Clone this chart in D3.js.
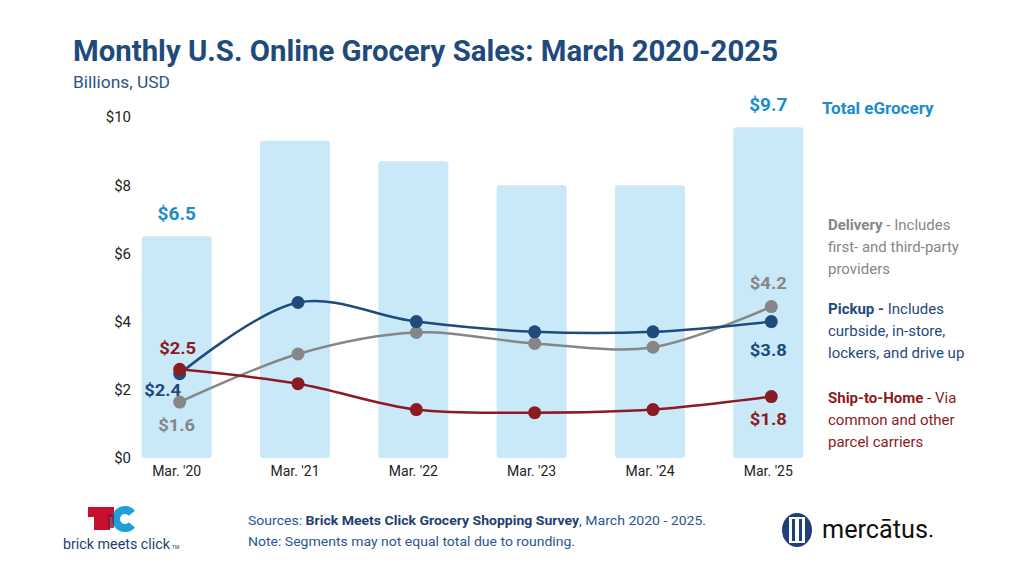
<!DOCTYPE html>
<html>
<head>
<meta charset="utf-8">
<script src="https://cdn.jsdelivr.net/npm/d3@7"></script>
<style>
  body { margin: 0; background: #fff; }
  text { font-family: Roboto, "Noto Sans", sans-serif; }
</style>
</head>
<body>
<div id="chart"></div>
<script>
const years = ["Mar. '20", "Mar. '21", "Mar. '22", "Mar. '23", "Mar. '24", "Mar. '25"];
const total = [6.5, 9.3, 8.7, 8.0, 8.0, 9.7];
const pickup = [2.47, 4.56, 4.0, 3.7, 3.7, 4.0];
const delivery = [1.64, 3.05, 3.68, 3.36, 3.25, 4.44];
const shipHome = [2.6, 2.18, 1.42, 1.33, 1.42, 1.8];
const yTicks = [0, 2, 4, 6, 8, 10];

// only first and last points carry value labels
const totalLabels = ["$6.5", null, null, null, null, "$9.7"];
const pickupLabels = ["$2.4", "$3.8"];
const deliveryLabels = ["$1.6", "$4.2"];
const shipLabels = ["$2.5", "$1.8"];

const width = 1024, height = 576;
const svg = d3.select("#chart").append("svg")
  .attr("width", width)
  .attr("height", height);

const navy = "#1f4a7c", grey = "#868686", red = "#8b1a22", blue = "#1b8dcc", barFill = "#c9e8f8";

const x = d3.scaleBand()
  .domain(years)
  .range([118, 827])
  .paddingInner(0.408)
  .paddingOuter(0.2);

const y = d3.scaleLinear().domain([0, 10]).range([458, 117]);

// title
svg.append("text")
  .attr("x", 73).attr("y", 61)
  .attr("font-size", 30).attr("font-weight", 700)
  .attr("fill", "#1f4a7c")
  .attr("textLength", 705).attr("lengthAdjust", "spacingAndGlyphs")
  .text("Monthly U.S. Online Grocery Sales: March 2020-2025");

svg.append("text")
  .attr("x", 73).attr("y", 88)
  .attr("font-size", 16)
  .attr("fill", "#2c5585")
  .attr("textLength", 97).attr("lengthAdjust", "spacingAndGlyphs")
  .text("Billions, USD");

// y axis labels (no line, no grid)
const yAxis = d3.axisLeft(y).tickValues(yTicks).tickFormat(d => "$" + d).tickSize(0).tickPadding(0);
const yg = svg.append("g").attr("transform", "translate(131,0)").call(yAxis);
yg.select(".domain").remove();
yg.selectAll("text").attr("font-size", 15).attr("fill", "#222").attr("font-family", "Roboto");

// x axis labels
const xAxis = d3.axisBottom(x).tickSize(0).tickPadding(0);
const xg = svg.append("g").attr("transform", "translate(0,466)").call(xAxis);
xg.select(".domain").remove();
xg.selectAll("text").attr("font-size", 14).attr("fill", "#222").attr("font-family", "Roboto");

// total bars
svg.append("g").selectAll("rect")
  .data(total)
  .enter()
  .append("rect")
  .attr("x", (d, i) => x(years[i]))
  .attr("y", d => y(d))
  .attr("width", x.bandwidth())
  .attr("height", d => y(0) - y(d))
  .attr("rx", 3)
  .attr("fill", barFill);

const labelled = d3.range(years.length).filter(i => totalLabels[i]);
svg.append("g").selectAll("text")
  .data(labelled)
  .enter()
  .append("text")
  .attr("x", i => x(years[i]) + x.bandwidth() / 2)
  .attr("y", i => y(total[i]) - 16)
  .attr("text-anchor", "middle")
  .attr("font-size", 19).attr("font-weight", 700)
  .attr("fill", blue)
  .text(i => totalLabels[i]);

svg.append("text")
  .attr("x", 822).attr("y", 114)
  .attr("font-size", 17).attr("font-weight", 700)
  .attr("fill", blue)
  .text("Total eGrocery");

// lines
const cx = (d, i) => x(years[i]) + x.bandwidth() / 2 + 3;
const line = d3.line()
  .x(cx)
  .y(d => y(d))
  .curve(d3.curveCatmullRom.alpha(0.5));

const series = [
  { values: delivery, color: grey },
  { values: pickup, color: navy },
  { values: shipHome, color: red }
];

series.forEach(s => {
  svg.append("path")
    .datum(s.values)
    .attr("d", line)
    .attr("fill", "none")
    .attr("stroke", s.color)
    .attr("stroke-width", 2.5);
  svg.append("g").selectAll("circle")
    .data(s.values)
    .enter()
    .append("circle")
    .attr("cx", cx)
    .attr("cy", d => y(d))
    .attr("r", 6.5)
    .attr("fill", s.color);
});

// end value labels
const endLabel = (text, color, xx, yy) => svg.append("text")
  .attr("x", xx).attr("y", yy)
  .attr("text-anchor", "middle")
  .attr("font-size", 17).attr("font-weight", 700)
  .attr("fill", color)
  .attr("textLength", 37).attr("lengthAdjust", "spacingAndGlyphs")
  .text(text);

const x0 = x(years[0]) + x.bandwidth() / 2;
const x5 = x(years[5]) + x.bandwidth() / 2;
endLabel(shipLabels[0], red, x0 + 1, y(shipHome[0]) - 15);
endLabel(pickupLabels[0], navy, x0 - 14, y(pickup[0]) + 22);
endLabel(deliveryLabels[0], grey, x0, y(delivery[0]) + 29);
endLabel(deliveryLabels[1], grey, x5, y(delivery[5]) - 18);
endLabel(pickupLabels[1], navy, x5, y(pickup[5]) + 34);
endLabel(shipLabels[1], red, x5, y(shipHome[5]) + 28);

// legend notes
const notes = [
  { y: 230, color: grey, bold: "Delivery", rest: [" - Includes", "first- and third-party", "providers"] },
  { y: 314, color: navy, bold: "Pickup -", rest: [" Includes", "curbside, in-store,", "lockers, and drive up"] },
  { y: 403, color: red, bold: "Ship-to-Home", rest: [" - Via", "common and other", "parcel carriers"] }
];
notes.forEach(n => {
  const t = svg.append("text")
    .attr("x", 828).attr("y", n.y)
    .attr("font-size", 15).attr("fill", n.color);
  t.append("tspan").attr("font-weight", 700).text(n.bold);
  t.append("tspan").text(n.rest[0]);
  svg.append("text").attr("x", 828).attr("y", n.y + 22)
    .attr("font-size", 15).attr("fill", n.color).text(n.rest[1]);
  svg.append("text").attr("x", 828).attr("y", n.y + 44)
    .attr("font-size", 15).attr("fill", n.color).text(n.rest[2]);
});

// sources
const src = svg.append("text")
  .attr("x", 248).attr("y", 525)
  .attr("font-size", 13.6).attr("fill", "#2c5591")
  .attr("textLength", 458).attr("lengthAdjust", "spacingAndGlyphs");
src.append("tspan").text("Sources: ");
src.append("tspan").attr("font-weight", 700).attr("fill", "#1f3f70").text("Brick Meets Click Grocery Shopping Survey");
src.append("tspan").text(", March 2020 - 2025.");
svg.append("text")
  .attr("x", 248).attr("y", 546)
  .attr("font-size", 13.6).attr("fill", "#2c5591")
  .attr("textLength", 327).attr("lengthAdjust", "spacingAndGlyphs")
  .text("Note: Segments may not equal total due to rounding.");

// brick meets click logo
const bmc = svg.append("g");
bmc.append("rect").attr("x", 88).attr("y", 507).attr("width", 26).attr("height", 10).attr("fill", "#c8102e");
bmc.append("rect").attr("x", 94).attr("y", 517).attr("width", 16).attr("height", 13).attr("fill", "#c8102e");
bmc.append("path")
  .attr("transform", "translate(125,519)")
  .attr("d", d3.arc()({ innerRadius: 5, outerRadius: 13, startAngle: Math.PI / 2 + 0.7, endAngle: Math.PI * 2.5 - 0.7 }))
  .attr("fill", "#1f9fd8");
bmc.append("rect").attr("x", 108).attr("y", 514).attr("width", 6).attr("height", 14).attr("fill", "#7a1a3a").attr("opacity", 0.8);
bmc.append("text").attr("x", 63).attr("y", 549)
  .attr("font-size", 14.5).attr("fill", "#243f72")
  .attr("textLength", 107).attr("lengthAdjust", "spacingAndGlyphs")
  .text("brick meets click");
bmc.append("text").attr("x", 172).attr("y", 549).attr("font-size", 5).attr("fill", "#243f72").text("TM");

// mercatus logo
const mc = svg.append("g");
mc.append("ellipse").attr("cx", 797).attr("cy", 530).attr("rx", 15).attr("ry", 17).attr("fill", "#1f3f7a");
mc.append("rect").attr("x", 789).attr("y", 517).attr("width", 16).attr("height", 26).attr("fill", "#fff");
mc.append("rect").attr("x", 792).attr("y", 519).attr("width", 10).attr("height", 22).attr("fill", "#1f3f7a");
mc.append("rect").attr("x", 795).attr("y", 519).attr("width", 4).attr("height", 22).attr("fill", "#fff");
mc.append("text").attr("x", 822).attr("y", 538)
  .attr("font-size", 25).attr("fill", "#111")
  .attr("textLength", 106).attr("lengthAdjust", "spacingAndGlyphs")
  .text("mercātus");
mc.append("circle").attr("cx", 931).attr("cy", 536).attr("r", 1.3).attr("fill", "#111");
</script>
</body>
</html>
